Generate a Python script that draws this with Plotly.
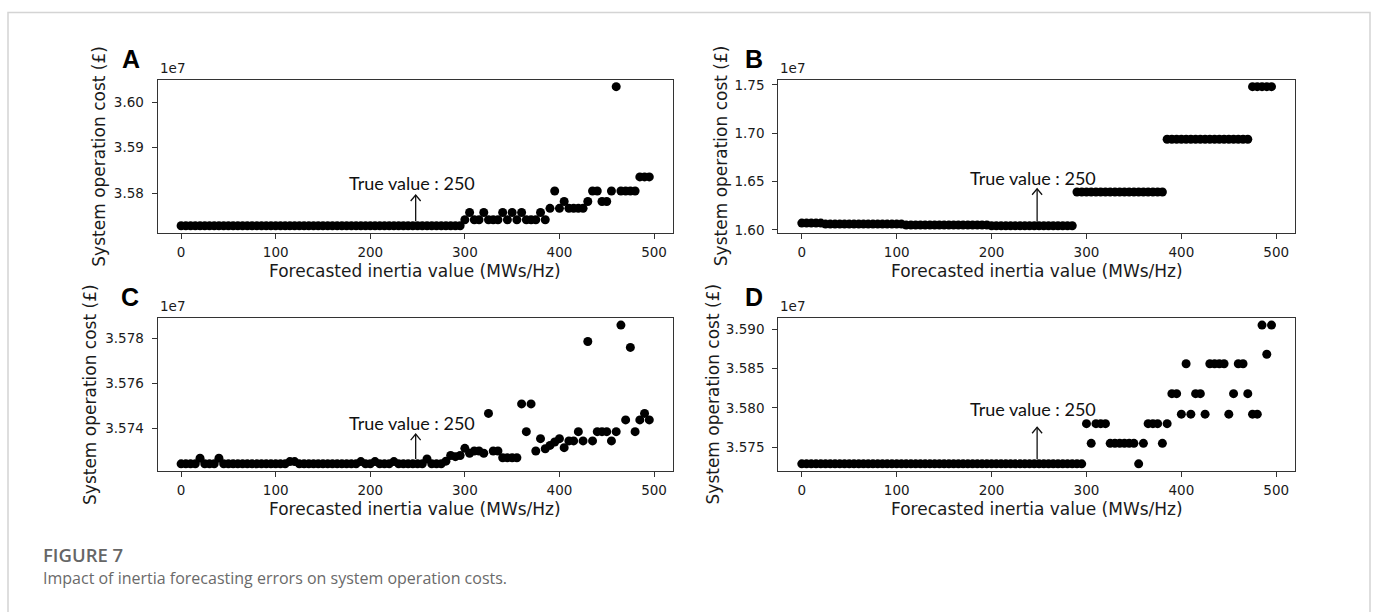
import plotly.graph_objects as go

W, H = 1375, 612

# ---------------- data (costs in units of 1e7 GBP) ----------------
inertia = list(range(0, 500, 5))  # forecasted inertia value (MWs/Hz)

cost_a = [
    3.5729, 3.5729, 3.5729, 3.5729, 3.5729, 3.5729, 3.5729, 3.5729, 3.5729, 3.5729,
    3.5729, 3.5729, 3.5729, 3.5729, 3.5729, 3.5729, 3.5729, 3.5729, 3.5729, 3.5729,
    3.5729, 3.5729, 3.5729, 3.5729, 3.5729, 3.5729, 3.5729, 3.5729, 3.5729, 3.5729,
    3.5729, 3.5729, 3.5729, 3.5729, 3.5729, 3.5729, 3.5729, 3.5729, 3.5729, 3.5729,
    3.5729, 3.5729, 3.5729, 3.5729, 3.5729, 3.5729, 3.5729, 3.5729, 3.5729, 3.5729,
    3.5729, 3.5729, 3.5729, 3.5729, 3.5729, 3.5729, 3.5729, 3.5729, 3.5729, 3.5729,
    3.5742, 3.5758, 3.5742, 3.5742, 3.5758, 3.5742, 3.5742, 3.5742, 3.5758, 3.5742,
    3.5758, 3.5742, 3.5758, 3.5742, 3.5742, 3.5742, 3.5758, 3.5742, 3.5767, 3.5805,
    3.5767, 3.5782, 3.5767, 3.5767, 3.5767, 3.5767, 3.5782, 3.5805, 3.5805, 3.5782,
    3.5782, 3.5805, 3.6034, 3.5805, 3.5805, 3.5805, 3.5805, 3.5836, 3.5836, 3.5836,
]

cost_b = [
    1.6070, 1.6070, 1.6070, 1.6070, 1.6070, 1.6060, 1.6060, 1.6060, 1.6060, 1.6060,
    1.6060, 1.6060, 1.6060, 1.6060, 1.6060, 1.6060, 1.6060, 1.6060, 1.6060, 1.6060,
    1.6060, 1.6060, 1.6050, 1.6050, 1.6050, 1.6050, 1.6050, 1.6050, 1.6050, 1.6050,
    1.6050, 1.6050, 1.6050, 1.6050, 1.6050, 1.6050, 1.6050, 1.6050, 1.6050, 1.6050,
    1.6043, 1.6043, 1.6043, 1.6043, 1.6043, 1.6043, 1.6043, 1.6043, 1.6043, 1.6043,
    1.6043, 1.6043, 1.6043, 1.6043, 1.6043, 1.6043, 1.6043, 1.6043, 1.6392, 1.6392,
    1.6392, 1.6392, 1.6392, 1.6392, 1.6392, 1.6392, 1.6392, 1.6392, 1.6392, 1.6392,
    1.6392, 1.6392, 1.6392, 1.6392, 1.6392, 1.6392, 1.6392, 1.6938, 1.6938, 1.6938,
    1.6938, 1.6938, 1.6938, 1.6938, 1.6938, 1.6938, 1.6938, 1.6938, 1.6938, 1.6938,
    1.6938, 1.6938, 1.6938, 1.6938, 1.6938, 1.7483, 1.7483, 1.7483, 1.7483, 1.7483,
]

cost_c = [
    3.57243, 3.57243, 3.57243, 3.57243, 3.57268, 3.57243, 3.57243, 3.57243, 3.57268, 3.57243,
    3.57243, 3.57243, 3.57243, 3.57243, 3.57243, 3.57243, 3.57243, 3.57243, 3.57243, 3.57243,
    3.57243, 3.57243, 3.57243, 3.57253, 3.57253, 3.57243, 3.57243, 3.57243, 3.57243, 3.57243,
    3.57243, 3.57243, 3.57243, 3.57243, 3.57243, 3.57243, 3.57243, 3.57243, 3.57253, 3.57243,
    3.57243, 3.57253, 3.57243, 3.57243, 3.57243, 3.57253, 3.57243, 3.57243, 3.57243, 3.57243,
    3.57243, 3.57243, 3.57265, 3.57243, 3.57243, 3.57243, 3.57255, 3.57280, 3.57275, 3.57280,
    3.57312, 3.57290, 3.57300, 3.57300, 3.57290, 3.57467, 3.57300, 3.57300, 3.57270, 3.57270,
    3.57270, 3.57270, 3.57509, 3.57386, 3.57509, 3.57300, 3.57355, 3.57310, 3.57325, 3.57340,
    3.57355, 3.57315, 3.57345, 3.57345, 3.57386, 3.57345, 3.57786, 3.57345, 3.57386, 3.57386,
    3.57386, 3.57345, 3.57386, 3.57859, 3.57438, 3.57760, 3.57386, 3.57438, 3.57467, 3.57438,
]

cost_d = [
    3.5729, 3.5729, 3.5729, 3.5729, 3.5729, 3.5729, 3.5729, 3.5729, 3.5729, 3.5729,
    3.5729, 3.5729, 3.5729, 3.5729, 3.5729, 3.5729, 3.5729, 3.5729, 3.5729, 3.5729,
    3.5729, 3.5729, 3.5729, 3.5729, 3.5729, 3.5729, 3.5729, 3.5729, 3.5729, 3.5729,
    3.5729, 3.5729, 3.5729, 3.5729, 3.5729, 3.5729, 3.5729, 3.5729, 3.5729, 3.5729,
    3.5729, 3.5729, 3.5729, 3.5729, 3.5729, 3.5729, 3.5729, 3.5729, 3.5729, 3.5729,
    3.5729, 3.5729, 3.5729, 3.5729, 3.5729, 3.5729, 3.5729, 3.5729, 3.5729, 3.5729,
    3.5780, 3.5755, 3.5780, 3.5780, 3.5780, 3.5755, 3.5755, 3.5755, 3.5755, 3.5755,
    3.5755, 3.5729, 3.5755, 3.5780, 3.5780, 3.5780, 3.5755, 3.5780, 3.5818, 3.5818,
    3.5792, 3.5856, 3.5792, 3.5818, 3.5818, 3.5792, 3.5856, 3.5856, 3.5856, 3.5856,
    3.5792, 3.5818, 3.5856, 3.5856, 3.5818, 3.5792, 3.5792, 3.5905, 3.5868, 3.5905,
]

panel_letters = ["A", "B", "C", "D"]
true_value = 250
x_title = "Forecasted inertia value (MWs/Hz)"
y_title = "System operation cost (£)"
annot_text = "True value : 250"
caption_head = "FIGURE 7"
caption_text = "Impact of inertia forecasting errors on system operation costs."

# ---------------- layout helpers ----------------
def px(x):
    return x / W

def py(y):
    return 1 - y / H

def pad_range(vals, frac=0.05):
    lo, hi = min(vals), max(vals)
    s = hi - lo
    return [lo - frac * s, hi + frac * s]

# box geometry (pixels)
boxes = {
    "A": (157.7, 672.7, 77.7, 232.7),
    "B": (778.3, 1295.0, 77.7, 232.7),
    "C": (157.7, 672.7, 319.3, 474.0),
    "D": (778.3, 1295.0, 319.3, 474.0),
}
series = {"A": cost_a, "B": cost_b, "C": cost_c, "D": cost_d}
dticks = {"A": 0.01, "B": 0.05, "C": 0.002, "D": 0.005}
fmts = {"A": ".2f", "B": ".2f", "C": ".3f", "D": ".3f"}
ytitle_x = {"A": 99.5, "B": 721, "C": 90.5, "D": 713}
letter_pos = {"A": (131, 57), "B": (754, 57), "C": (130, 298), "D": (754, 298)}
# arrow (tail, head) and text y, in data units of each panel
arrow_y = {
    "A": (3.57385, 3.57963, 3.5822),
    "B": (1.6084, 1.6426, 1.6535),
    "C": (3.57265, 3.57375, 3.57426),
    "D": (3.5735, 3.57754, 3.57984),
}

fig = go.Figure()
tickfont = dict(family="DejaVu Sans", size=13.5, color="#1a1a1a")
titlefont = dict(family="DejaVu Sans", size=17, color="#1a1a1a")

annotations = []
shapes = []
for i, key in enumerate(["A", "B", "C", "D"]):
    n = "" if i == 0 else str(i + 1)
    xa, ya = "x" + n, "y" + n
    x0, x1, y0, y1 = boxes[key]
    vals = series[key]
    fig.add_trace(go.Scatter(
        x=inertia, y=vals, mode="markers", xaxis=xa, yaxis=ya,
        marker=dict(size=9, color="#000000", line=dict(width=0)),
        showlegend=False, hoverinfo="skip"))
    common = dict(showline=True, linecolor="#333333", linewidth=1.2, mirror=True,
                  ticks="outside", ticklen=5, tickwidth=1, tickcolor="#333333",
                  showgrid=False, zeroline=False, tickfont=tickfont)
    fig.update_layout(**{
        "xaxis" + n: dict(domain=[px(x0), px(x1)], anchor=ya,
                          range=pad_range(inertia), tickvals=[0, 100, 200, 300, 400, 500],
                          ticklabelstandoff=2, **common),
        "yaxis" + n: dict(domain=[py(y1), py(y0)], anchor=xa,
                          range=pad_range(vals), dtick=dticks[key], tickformat=fmts[key],
                          ticklabelstandoff=5, **common),
    })
    # axis titles
    annotations.append(dict(text=x_title, x=px((x0 + x1) / 2), y=py(y1 + 38.5),
                            xref="paper", yref="paper", showarrow=False,
                            xanchor="center", yanchor="middle", font=titlefont))
    annotations.append(dict(text=y_title, x=px(ytitle_x[key]), y=py((y0 + y1) / 2),
                            xref="paper", yref="paper", showarrow=False, textangle=-90,
                            xanchor="center", yanchor="middle", font=titlefont))
    # offset text
    annotations.append(dict(text="1e7", x=px(x0), y=py(y0 - 2), xref="paper", yref="paper",
                            showarrow=False, xanchor="left", yanchor="bottom",
                            font=dict(family="DejaVu Sans", size=13.5, color="#1a1a1a")))
    # panel letter
    lx, ly = letter_pos[key]
    annotations.append(dict(text="<b>%s</b>" % key, x=px(lx), y=py(ly), xref="paper", yref="paper",
                            showarrow=False, xanchor="center", yanchor="middle",
                            font=dict(family="Liberation Sans", size=25, color="#000000")))
    # true-value annotation
    tail, head, ty = arrow_y[key]
    annotations.append(dict(text=annot_text, x=244, y=ty, xref=xa, yref=ya, showarrow=False,
                            xanchor="center", yanchor="middle",
                            font=dict(family="Lato", size=18, color="#111111")))
    shapes.append(dict(type="line", xref=xa, yref=ya, x0=true_value - 2, x1=true_value - 2,
                       y0=tail, y1=head, line=dict(color="#111111", width=1.3)))
    shapes.append(dict(type="path", xref=xa, yref=ya, xsizemode="pixel", ysizemode="pixel",
                       xanchor=true_value - 2, yanchor=head,
                       path="M -5,-6 L 0,0 L 5,-6", line=dict(color="#111111", width=1.3)))

# caption
annotations.append(dict(text=caption_head, x=px(41), y=py(559), xref="paper", yref="paper",
                        showarrow=False, xanchor="left", yanchor="middle",
                        font=dict(family="Open Sans", size=18.5, color="#666666", weight=600)))
annotations.append(dict(text=caption_text, x=px(41), y=py(583), xref="paper", yref="paper",
                        showarrow=False, xanchor="left", yanchor="middle",
                        font=dict(family="Open Sans", size=16, color="#6a6a6a")))
# outer frame
shapes.append(dict(type="rect", xref="paper", yref="paper", x0=px(8), x1=px(1370),
                   y0=-0.05, y1=py(9.5), line=dict(color="#d4d4d4", width=1.5),
                   fillcolor="rgba(0,0,0,0)", layer="below"))

fig.update_layout(width=W, height=H, margin=dict(l=0, r=0, t=0, b=0),
                  paper_bgcolor="white", plot_bgcolor="white",
                  annotations=annotations, shapes=shapes, showlegend=False)

fig.write_html("out.html")
